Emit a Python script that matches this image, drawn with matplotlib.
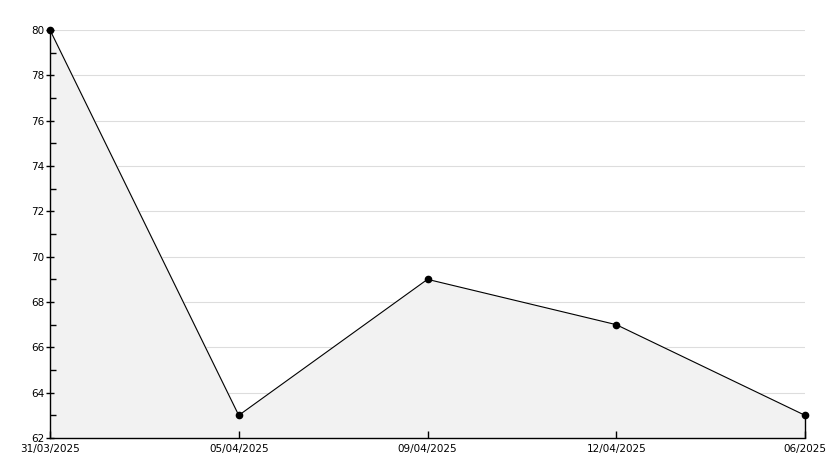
import numpy as np
import matplotlib.pyplot as plt
from matplotlib.ticker import MultipleLocator

# Datos
fechas = ['31/03/2025', '05/04/2025', '09/04/2025', '12/04/2025', '06/2025']
valores = [80, 63, 69, 67, 63]
niveles_rejilla = [64, 66, 68, 70, 72, 74, 76, 78, 80]

fig = plt.figure(figsize=(8.34, 4.68), dpi=100)
ax = fig.add_axes([50 / 834, 30 / 468, 755 / 834, 408 / 468])

x = np.arange(len(fechas))

# Rejilla por debajo del relleno
for nivel in niveles_rejilla:
    ax.axhline(nivel, color='#dddddd', linewidth=0.8, zorder=0)

# Relleno bajo la línea
ax.fill_between(x, valores, 62, color='#f2f2f2', zorder=1)
ax.plot(x, valores, color='black', linewidth=0.8, marker='o', markersize=4.5,
        zorder=5, clip_on=False)
ax.vlines(x[-1], 62, valores[-1], color='black', linewidth=1, zorder=3, clip_on=False)

ax.set_xlim(x[0], x[-1])
ax.set_ylim(62, 80)
ax.set_xticks(x)
ax.set_xticklabels(fechas)
ax.yaxis.set_major_locator(MultipleLocator(2))
ax.yaxis.set_minor_locator(MultipleLocator(1))

ax.spines['top'].set_visible(False)
ax.spines['right'].set_visible(False)
for s in ['left', 'bottom']:
    ax.spines[s].set_linewidth(1)
    ax.spines[s].set_zorder(4)

ax.tick_params(axis='y', which='major', direction='inout', length=6, width=1,
               labelsize=7.5, pad=1)
ax.tick_params(axis='y', which='minor', direction='in', length=4, width=1)
ax.tick_params(axis='x', direction='in', length=5, width=1, labelsize=7.5, pad=4)

# La etiqueta 62 va algo más arriba para no pisar las fechas
fig.canvas.draw()
ax.get_yticklabels()[0].set_verticalalignment('bottom')

plt.savefig('out.png', dpi=100)
